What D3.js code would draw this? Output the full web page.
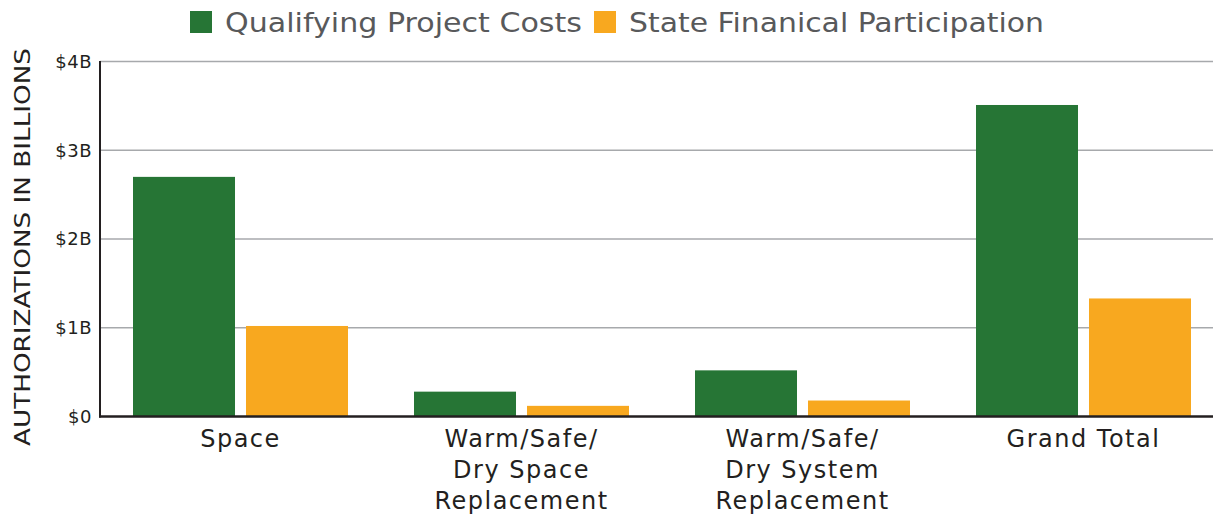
<!DOCTYPE html>
<html>
<head>
<meta charset="utf-8">
<script src="https://cdn.jsdelivr.net/npm/d3@7"></script>
<style>
  body { margin: 0; background: #fff; }
  text { font-family: "DejaVu Sans", "Open Sans", sans-serif; }
</style>
</head>
<body>
<svg id="chart" width="1213" height="516"></svg>
<script>
// data
var categories = [
  ["Space"],
  ["Warm/Safe/", "Dry Space", "Replacement"],
  ["Warm/Safe/", "Dry System", "Replacement"],
  ["Grand Total"]
];
var seriesNames = ["Qualifying Project Costs", "State Finanical Participation"];
var qualifyingCosts = [2.70, 0.28, 0.52, 3.51];
var stateParticipation = [1.02, 0.12, 0.18, 1.33];
var yTicks = [0, 1, 2, 3, 4];
var yTickLabels = ["$0", "$1B", "$2B", "$3B", "$4B"];
var colors = ["#267535", "#f8a81f"];

var svg = d3.select("#chart");
var mLeft = 100, mRight = 1213, mTop = 61.5, mBottom = 416.5;

var data = categories.map(function(c, i) {
  return { key: i, lines: c, values: [qualifyingCosts[i], stateParticipation[i]] };
});

var x = d3.scaleBand()
  .domain(data.map(d => d.key))
  .range([mLeft, mLeft + 281 * 4])
  .padding(0);

var xInner = d3.scaleBand()
  .domain([0, 1])
  .range([33, 248])
  .paddingInner(0.0973);

var y = d3.scaleLinear().domain([0, 4]).range([mBottom, mTop]);

// gridlines
svg.append("g")
  .selectAll("line")
  .data(yTicks.filter(t => t > 0))
  .enter().append("line")
  .attr("x1", mLeft).attr("x2", mRight)
  .attr("y1", d => y(d)).attr("y2", d => y(d))
  .attr("stroke", "#a7a9ac")
  .attr("stroke-width", 1.5);

// bars
var groups = svg.append("g")
  .selectAll("g")
  .data(data)
  .enter().append("g")
  .attr("transform", d => `translate(${x(d.key)},0)`);

groups.selectAll("rect")
  .data(d => d.values)
  .enter().append("rect")
  .attr("x", (d, i) => xInner(i))
  .attr("width", xInner.bandwidth())
  .attr("y", d => y(d))
  .attr("height", d => mBottom - y(d))
  .attr("fill", (d, i) => colors[i]);

// y axis
var yAxis = d3.axisLeft(y)
  .tickValues(yTicks)
  .tickFormat((d, i) => yTickLabels[i])
  .tickSize(0)
  .tickPadding(8);

var ya = svg.append("g")
  .attr("transform", `translate(${mLeft},0)`)
  .call(yAxis);
ya.select(".domain").remove();
ya.selectAll("text")
  .attr("font-size", 18)
  .attr("letter-spacing", 0.5)
  .attr("fill", "#231f20")
  .style("font-family", "'DejaVu Sans', sans-serif");

svg.append("line")
  .attr("x1", mLeft).attr("x2", mLeft)
  .attr("y1", mTop - 0.5).attr("y2", mBottom + 1)
  .attr("stroke", "#231f20").attr("stroke-width", 2);

svg.append("line")
  .attr("x1", mLeft - 1).attr("x2", mRight)
  .attr("y1", mBottom).attr("y2", mBottom)
  .attr("stroke", "#231f20").attr("stroke-width", 2.5);

// x labels
var labels = svg.append("g")
  .selectAll("text")
  .data(data)
  .enter().append("text")
  .attr("text-anchor", "middle")
  .attr("font-size", 24)
  .attr("letter-spacing", 1.5)
  .attr("fill", "#231f20")
  .attr("x", d => x(d.key) + x.bandwidth() / 2)
  .attr("y", 447);

labels.selectAll("tspan")
  .data(d => d.lines.map(l => ({ l: l, cx: x(d.key) + x.bandwidth() / 2 })))
  .enter().append("tspan")
  .attr("x", d => d.cx)
  .attr("dy", (d, i) => i === 0 ? 0 : 31)
  .text(d => d.l);

// y title
svg.append("text")
  .attr("transform", "translate(30,247) rotate(-90)")
  .attr("text-anchor", "middle")
  .attr("font-size", 22)
  .attr("fill", "#231f20")
  .attr("textLength", 398)
  .attr("lengthAdjust", "spacingAndGlyphs")
  .text("AUTHORIZATIONS IN BILLIONS");

// legend
var legendX = [190, 594];
var legendLen = [357, 415];
var legend = svg.append("g")
  .selectAll("g")
  .data(seriesNames)
  .enter().append("g")
  .attr("transform", (d, i) => `translate(${legendX[i]},11)`);

legend.append("rect")
  .attr("width", 22).attr("height", 22)
  .attr("fill", (d, i) => colors[i]);

legend.append("text")
  .attr("x", 35).attr("y", 21)
  .attr("font-size", 27)
  .attr("fill", "#58595b")
  .attr("textLength", (d, i) => legendLen[i])
  .attr("lengthAdjust", "spacingAndGlyphs")
  .text(d => d);
</script>
</body>
</html>
